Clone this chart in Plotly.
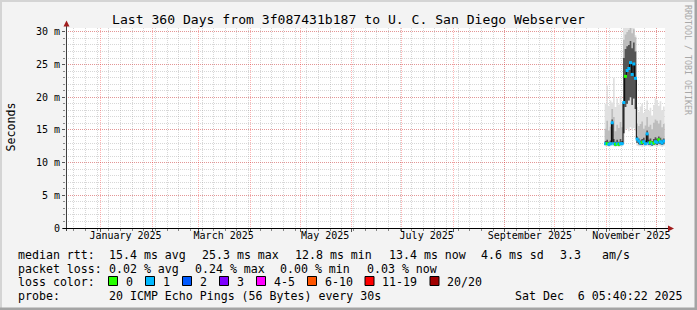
import plotly.graph_objects as go
from datetime import datetime, timedelta

# ---------------- data ----------------
title_text = "Last 360 Days from 3f087431b187 to U. C. San Diego Webserver"
range_start = "2024-12-11 05:40:22"
range_end = "2025-12-06 05:40:22"
first_bin = datetime(2025, 10, 31)  # daily bins

median_ms = [12.9, 12.9, 12.8, 12.9, 16.1, 12.9, 12.8, 12.9, 12.8, 12.9, 12.9,
             19.2, 23.2, 24.1, 24.4, 25.3, 23.5, 25.1, 22.9,
             13.6, 13.3, 13.0, 13.1, 13.2, 12.9, 14.4, 13.0, 13.1, 12.9, 13.0, 13.2,
             13.1, 13.5, 13.2, 13.0, 13.3]
loss_count = [1, 0, 1, 1, 1, 1, 0, 1, 0, 1, 1,
              1, 0, 1, 1, 1, 1, 1, 1,
              1, 1, 1, 0, 1, 1, 1, 1, 0, 1, 0, 1, 1, 0, 1, 1, 1]
ping_min = [12.5, 12.5, 12.4, 12.5, 12.6, 12.5, 12.4, 12.5, 12.4, 12.5, 12.5,
            12.8, 15.0, 15.2, 14.8, 15.4, 15.0, 15.3, 14.9,
            12.6, 12.5, 12.5, 12.4, 12.5, 12.5, 12.6, 12.5, 12.4, 12.5, 12.5, 12.5,
            12.4, 12.6, 12.5, 12.4, 12.5]
ping_p25 = [12.7, 12.7, 12.6, 12.7, 13.2, 12.7, 12.6, 12.7, 12.6, 12.7, 12.7,
            14.5, 18.5, 19.0, 19.5, 20.0, 18.8, 19.8, 18.2,
            13.0, 12.8, 12.7, 12.7, 12.8, 12.7, 13.0, 12.7, 12.7, 12.6, 12.7, 12.8,
            12.7, 12.9, 12.8, 12.7, 12.8]
ping_p75 = [13.3, 13.5, 13.2, 13.4, 16.6, 13.6, 13.2, 13.5, 13.2, 13.6, 13.3,
            26.0, 27.4, 27.8, 28.0, 28.6, 27.5, 28.4, 27.0,
            14.0, 13.7, 13.4, 13.6, 13.8, 13.4, 14.9, 13.5, 13.7, 13.3, 13.6, 13.9,
            13.7, 14.0, 13.8, 13.5, 13.7]
ping_p90 = [15.2, 16.4, 14.9, 15.5, 18.2, 17.0, 14.8, 15.8, 15.3, 16.2, 15.4,
            28.8, 29.6, 30.0, 30.3, 30.6, 29.8, 30.4, 29.2,
            16.0, 15.6, 15.9, 16.3, 15.2, 15.7, 17.0, 15.5, 15.8, 15.1, 16.1, 16.6,
            16.4, 16.0, 16.5, 15.4, 15.9]
ping_max = [19.0, 21.8, 18.7, 19.5, 19.2, 23.0, 18.5, 19.8, 18.9, 20.2, 19.0,
            32.0, 32.0, 32.0, 32.0, 32.0, 32.0, 32.0, 29.5,
            18.5, 17.8, 18.6, 19.0, 17.6, 18.2, 19.5, 17.9, 18.4, 17.2, 18.8, 19.8,
            19.6, 18.7, 19.4, 18.0, 18.6]

month_starts = ["2025-%02d-01" % m for m in range(1, 13)]
month_label_pos = ["2025-01-16", "2025-03-16", "2025-05-16", "2025-07-16", "2025-09-16", "2025-11-16"]
month_labels = ["January 2025", "March 2025", "May 2025", "July 2025", "September 2025", "November 2025"]
ytick_vals = [0, 5, 10, 15, 20, 25, 30]
ytick_text = ["0", "5 m", "10 m", "15 m", "20 m", "25 m", "30 m"]

loss_bucket_labels = ["0", "1", "2", "3", "4-5", "6-10", "11-19", "20/20"]
loss_bucket_colors = ["#26ff00", "#00b8ff", "#0059ff", "#7e00ff", "#ff00ff", "#ff5500", "#ff0000", "#a10000"]

stats_rtt = ["median rtt:", "15.4 ms avg", "25.3 ms max", "12.8 ms min", "13.4 ms now", "4.6 ms sd", "3.3", "am/s"]
stats_loss = ["packet loss:", "0.02 % avg", "0.24 % max", "0.00 % min", "0.03 % now"]
probe_text = ["probe:", "20 ICMP Echo Pings (56 Bytes) every 30s", "Sat Dec  6 05:40:22 2025"]
watermark = "RRDTOOL / TOBI OETIKER"

# ---------------- geometry ----------------
W_FIG, H_FIG = 697, 310
L, R, T, B = 66, 665, 28, 228
PW, PH = R - L, B - T
FONT = "DejaVu Sans Mono"


def px(x):
    return (x - L) / PW


def py(y):
    return (B - y) / PH


def bucket(n):
    if n <= 3:
        return n
    if n <= 5:
        return 4
    if n <= 10:
        return 5
    if n <= 19:
        return 6
    return 7


n = len(median_ms)
starts = [first_bin + timedelta(days=i) for i in range(n)]
edges = starts + [first_bin + timedelta(days=n)]
centers = [s + timedelta(hours=12) for s in starts]


def ext(v):
    return list(v) + [v[-1]]


fig = go.Figure()


def band(lo, hi, color):
    fig.add_trace(go.Scatter(x=edges, y=ext(lo), mode="lines", line=dict(width=0, shape="hv"),
                             hoverinfo="skip", showlegend=False))
    fig.add_trace(go.Scatter(x=edges, y=ext(hi), mode="lines", line=dict(width=0, shape="hv"),
                             fill="tonexty", fillcolor=color, hoverinfo="skip", showlegend=False))


band(ping_min, ping_max, "#e0e0e0")
band(ping_p25, ping_p90, "#bdbdbd")
band(ping_p25, ping_p75, "#555555")

fig.add_trace(go.Scatter(x=edges, y=ext(median_ms), mode="lines",
                         line=dict(color="#000000", width=1, shape="hv"),
                         hoverinfo="skip", showlegend=False))
fig.add_trace(go.Scatter(x=centers, y=median_ms, mode="markers",
                         marker=dict(symbol="square", size=3,
                                     color=[loss_bucket_colors[bucket(c)] for c in loss_count],
                                     line=dict(width=0)),
                         hoverinfo="skip", showlegend=False))
# carrier for month labels axis
fig.add_trace(go.Scatter(x=month_label_pos, y=[0] * len(month_label_pos), xaxis="x2",
                         mode="markers", marker=dict(opacity=0), hoverinfo="skip", showlegend=False))

red_grid = "rgba(255,0,0,0.30)"
gray_grid = "rgba(150,150,150,0.38)"

fig.update_layout(
    width=W_FIG, height=H_FIG,
    margin=dict(l=L, r=W_FIG - R, t=T, b=H_FIG - B, pad=0),
    paper_bgcolor="#f3f3f3", plot_bgcolor="#ffffff",
    font=dict(family=FONT, color="#000000"),
    showlegend=False,
    xaxis=dict(type="date", range=[range_start, range_end],
               tickmode="array", tickvals=month_starts, ticktext=[""] * len(month_starts),
               showgrid=True, gridcolor=red_grid, griddash="1px,1px", gridwidth=1,
               ticks="outside", ticklen=3, tickcolor="#555555",
               minor=dict(dtick=7 * 86400000, tick0="2024-12-16", showgrid=True,
                          gridcolor=gray_grid, griddash="1px,1px", ticks="outside",
                          ticklen=2, tickcolor="#888888"),
               showline=False, zeroline=False, fixedrange=True),
    xaxis2=dict(type="date", range=[range_start, range_end], overlaying="x", side="bottom",
                anchor="y", tickmode="array", tickvals=month_label_pos, ticktext=month_labels,
                showgrid=False, ticks="", showline=False, zeroline=False,
                tickfont=dict(family=FONT, size=10, color="#000000"), fixedrange=True),
    yaxis=dict(range=[0, 30.6], tickmode="array", tickvals=ytick_vals, ticktext=ytick_text,
               showgrid=True, gridcolor=red_grid, griddash="1px,1px",
               ticks="outside", ticklen=3, tickcolor="#555555",
               minor=dict(dtick=1, showgrid=True, gridcolor=gray_grid, griddash="1px,1px",
                          ticks="outside", ticklen=2, tickcolor="#888888"),
               tickfont=dict(family=FONT, size=10, color="#000000"),
               showline=False, zeroline=False, fixedrange=True),
)

shapes = []
# frame
shapes.append(dict(type="rect", xref="paper", yref="paper", x0=px(0), x1=px(697), y0=py(0), y1=py(2),
                   fillcolor="#d4d4d4", line=dict(width=0), layer="above"))
shapes.append(dict(type="rect", xref="paper", yref="paper", x0=px(0), x1=px(2), y0=py(0), y1=py(310),
                   fillcolor="#d4d4d4", line=dict(width=0), layer="above"))
shapes.append(dict(type="rect", xref="paper", yref="paper", x0=px(0), x1=px(697), y0=py(307.5), y1=py(310),
                   fillcolor="#a4a4a4", line=dict(width=0), layer="above"))
shapes.append(dict(type="rect", xref="paper", yref="paper", x0=px(694.5), x1=px(697), y0=py(0), y1=py(310),
                   fillcolor="#a4a4a4", line=dict(width=0), layer="above"))
# axes lines
shapes.append(dict(type="line", xref="paper", yref="paper", x0=px(66.5), x1=px(66.5), y0=py(231), y1=py(24),
                   line=dict(color="#404040", width=1), layer="above"))
shapes.append(dict(type="line", xref="paper", yref="paper", x0=px(63), x1=px(670), y0=py(228.5), y1=py(228.5),
                   line=dict(color="#000000", width=1), layer="above"))
# arrows
shapes.append(dict(type="path", xref="paper", yref="paper",
                   path="M %f %f L %f %f L %f %f Z" % (px(63.5), py(26.5), px(69.5), py(26.5), px(66.5), py(20.5)),
                   fillcolor="#a01c1c", line=dict(width=0), layer="above"))
shapes.append(dict(type="path", xref="paper", yref="paper",
                   path="M %f %f L %f %f L %f %f Z" % (px(668), py(225.5), px(668), py(231.5), px(674), py(228.5)),
                   fillcolor="#a01c1c", line=dict(width=0), layer="above"))

annotations = []


def txt(s, x, y, size=11.6, anchor="left", color="#000000", angle=0):
    annotations.append(dict(text=s, xref="paper", yref="paper", x=px(x), y=py(y), xanchor=anchor,
                            yanchor="middle", showarrow=False, textangle=angle,
                            font=dict(family=FONT, size=size, color=color)))


txt(title_text, 348.5, 19, size=13.1, anchor="center")
txt("Seconds", 10, 127.5, size=11.6, anchor="center", angle=-90)
txt(watermark, 688, 60, size=8.3, anchor="center", color="#a8a8a8", angle=90)

rtt_x = [16, 107.3, 200, 293.3, 386.7, 479.3, 558.3, 600]
for s, x in zip(stats_rtt, rtt_x):
    txt(s, x, 254.5)
loss_x = [16, 107.3, 193.3, 278.3, 365]
for s, x in zip(stats_loss, loss_x):
    txt(s, x, 268.5)
txt("loss color:", 16, 282)
box_x = [108.5, 145.5, 182.5, 219.5, 256.5, 307.5, 365, 430]
for lab, col, bx in zip(loss_bucket_labels, loss_bucket_colors, box_x):
    shapes.append(dict(type="rect", xref="paper", yref="paper", x0=px(bx), x1=px(bx + 9),
                       y0=py(285.5), y1=py(276.5), fillcolor=col,
                       line=dict(color="#000000", width=1), layer="above"))
    txt(lab, bx + 15, 282)
probe_x = [16, 107.3, 513.3]
for s, x in zip(probe_text, probe_x):
    txt(s, x, 296)

fig.update_layout(shapes=shapes, annotations=annotations)
fig.write_html("out.html")
